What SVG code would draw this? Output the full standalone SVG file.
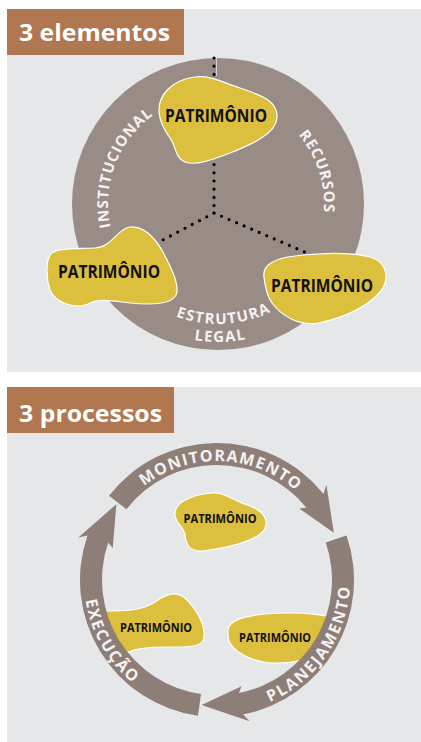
<svg xmlns="http://www.w3.org/2000/svg" width="421" height="742" viewBox="0 0 421 742">
<style>
.panel{fill:#e6e7e8}
.hdr{fill:#b07751}
.hdrt{font-family:"Open Sans","Liberation Sans",sans-serif;font-weight:700;font-size:24px;fill:#ffffff}
.blob{fill:#dcbf3c;stroke:#ffffff;stroke-width:1.2}
.pt{font-family:"Open Sans","Liberation Sans",sans-serif;font-weight:700;fill:#111111;text-anchor:middle}
.lbl{font-family:"Open Sans","Liberation Sans",sans-serif;font-weight:700;font-size:15px;fill:#f4f2f0;letter-spacing:0.8px}
.rl{font-family:"Open Sans","Liberation Sans",sans-serif;font-weight:700;font-size:16px;fill:#f4f2f0}
.dots{fill:none;stroke:#000000;stroke-width:3.2;stroke-linecap:round;stroke-dasharray:0 8.2}
.ring{fill:#8d7f78}
</style>
<defs>
<path id="pInst" d="M133.74,274.71 A110,110 0 0 1 202.69,95.07"/>
<path id="pRec" d="M240.04,100.32 A106,106 0 0 1 296.77,274.93"/>
<path id="pEst" d="M117.36,269.36 A120,120 0 0 0 324.92,258.48"/>
<path id="pLeg" d="M131.16,311.24 A138,138 0 0 0 308.54,308.15"/>
<path id="pMon" d="M105.18,539.30 A119,119 0 0 1 331.39,547.20"/>
<path id="pPla" d="M193.91,710.98 A133,133 0 0 0 331.01,511.50"/>
<path id="pExe" d="M92.02,534.51 A133,133 0 0 0 193.91,710.98"/>
</defs>

<!-- Panel 1 -->
<rect class="panel" x="7" y="9" width="414" height="363"/>
<g id="header1">
<rect class="hdr" x="7" y="9" width="177" height="46"/>
<text class="hdrt" x="19" y="41" textLength="151" lengthAdjust="spacingAndGlyphs">3 elementos</text>
</g>
<g id="circle1">
<circle cx="218" cy="204" r="146" fill="#998c87"/>
</g>
<g id="connectors1">
<line x1="216.5" y1="58" x2="216.5" y2="76" stroke="#ffffff" stroke-width="0.8" opacity="0.8"/>
<path class="dots" d="M214,58 L214,213"/>
<path class="dots" d="M214,213 L157,243"/>
<path class="dots" d="M214,213 L307,253"/>
</g>
<g id="labels1">
<text class="lbl"><textPath href="#pInst" startOffset="50%" text-anchor="middle">INSTITUCIONAL</textPath></text>
<text class="lbl"><textPath href="#pRec" startOffset="50%" text-anchor="middle">RECURSOS</textPath></text>
<text class="lbl" style="letter-spacing:1.3px"><textPath href="#pEst" startOffset="50%" text-anchor="middle">ESTRUTURA</textPath></text>
<text class="lbl" style="letter-spacing:1.3px"><textPath href="#pLeg" startOffset="50%" text-anchor="middle">LEGAL</textPath></text>
</g>
<g id="node-top">
<path class="blob" d="M159,112 C158,95 172,80 195,77 C210,75 222,82 240,88 C260,95 278,100 277,118 C276,134 250,145 230,153 C212,160 195,166 185,162 C175,158 176,146 170,138 C164,130 160,122 159,112 Z"/>
<text class="pt" x="216" y="122" font-size="18" textLength="102" lengthAdjust="spacingAndGlyphs">PATRIMÔNIO</text>
</g>
<g id="node-left">
<path class="blob" d="M130,227 C145,226 155,238 163,252 C170,266 178,280 177,292 C175,305 150,305 130,303 C112,301 100,298 88,304 C75,310 55,302 50,290 C46,278 46,262 50,255 C55,248 70,249 95,248 C112,247 118,228 130,227 Z"/>
<text class="pt" x="109" y="278" font-size="18" textLength="102" lengthAdjust="spacingAndGlyphs">PATRIMÔNIO</text>
</g>
<g id="node-right">
<path class="blob" d="M264,277 C262,265 275,258 295,256 C320,253 350,252 370,257 C388,262 390,280 380,292 C368,306 345,318 318,323 C298,326 282,316 272,303 C266,295 265,285 264,277 Z"/>
<text class="pt" x="322" y="292" font-size="18" textLength="102" lengthAdjust="spacingAndGlyphs">PATRIMÔNIO</text>
</g>

<!-- Panel 2 -->
<rect class="panel" x="7" y="387" width="414" height="355"/>
<g id="header2">
<rect class="hdr" x="7" y="387" width="167" height="46"/>
<text class="hdrt" x="19" y="422" textLength="143" lengthAdjust="spacingAndGlyphs">3 processos</text>
</g>
<g id="node-b-top">
<path class="blob" d="M175,515 C174,503 190,495 212,493 C225,492 232,500 250,506 C263,511 270,520 264,530 C255,542 225,548 203,551 C190,552 186,545 185,535 C184,527 176,524 175,515 Z"/>
<text class="pt" x="220" y="522.5" font-size="12.5" textLength="73" lengthAdjust="spacingAndGlyphs">PATRIMÔNIO</text>
</g>
<g id="node-b-left">
<path class="blob" d="M98,611 C120,611 140,612 155,602 C165,595 175,590 185,598 C195,607 206,625 204,638 C202,648 185,647 165,647 C148,647 138,648 128,652 L118,660 L98,640 Z"/>
<text class="pt" x="156" y="632" font-size="12.5" textLength="72" lengthAdjust="spacingAndGlyphs">PATRIMÔNIO</text>
</g>
<g id="node-b-right">
<path class="blob" d="M228,633 C226,620 245,616 265,614 C290,612 315,613 335,618 L322,652 C310,660 290,664 270,663 C250,661 235,652 230,643 C228,640 228,636 228,633 Z"/>
<text class="pt" x="275" y="641.5" font-size="12.5" textLength="72" lengthAdjust="spacingAndGlyphs">PATRIMÔNIO</text>
</g>
<g id="connectors2">
<path class="ring" d="M109.04,495.65 A137,137 0 0 1 323.47,493.79 L326.43,484.87 L333.83,532.80 L299.26,508.49 L306.37,507.63 A115,115 0 0 0 126.38,509.19 Z"/>
<path class="ring" d="M346.53,535.40 A137,137 0 0 1 243.14,714.48 L249.62,721.29 L201.64,705.06 L241.52,686.21 L238.94,692.89 A115,115 0 0 0 325.73,542.56 Z"/>
<path class="ring" d="M197.93,715.67 A137,137 0 0 1 87.47,535.40 L78.34,537.60 L116.38,504.17 L112.76,548.13 L108.27,542.56 A115,115 0 0 0 200.99,693.88 Z"/>
</g>
<g id="labels2">
<text class="rl" style="letter-spacing:1.3px"><textPath href="#pMon" startOffset="50%" text-anchor="middle">MONITORAMENTO</textPath></text>
<text class="rl" style="letter-spacing:1.8px"><textPath href="#pPla" startOffset="50%" text-anchor="middle">PLANEJAMENTO</textPath></text>
<text class="rl" style="letter-spacing:1.8px"><textPath href="#pExe" startOffset="50%" text-anchor="middle">EXECUÇÃO</textPath></text>
</g>
</svg>
